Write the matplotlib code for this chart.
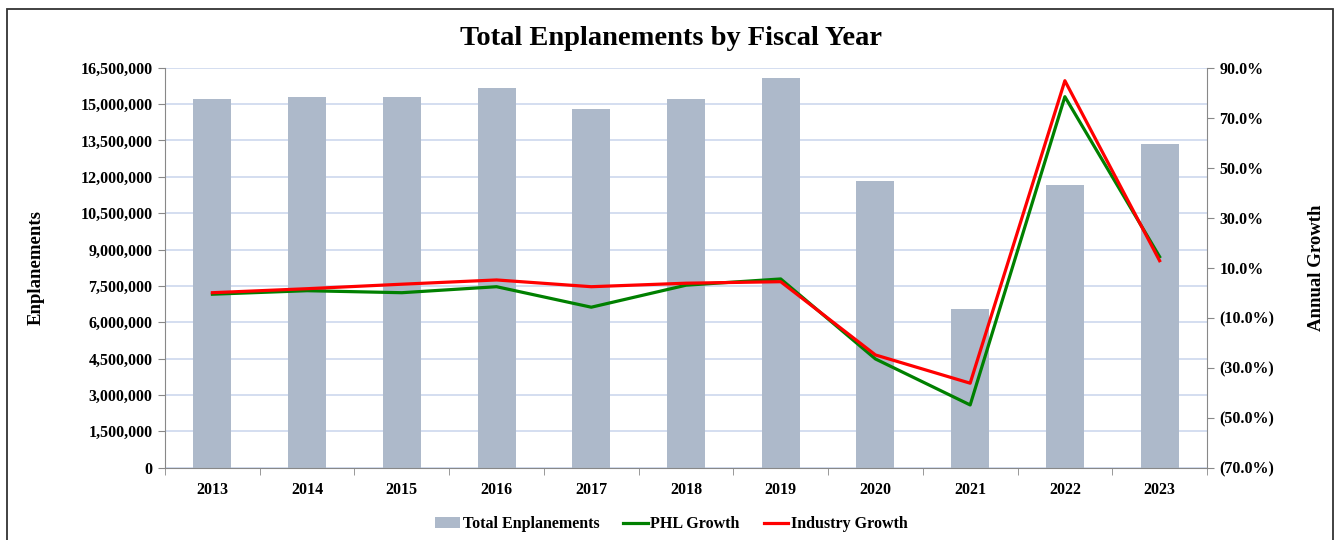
import matplotlib
matplotlib.use("Agg")
import matplotlib.pyplot as plt
from matplotlib.patches import Rectangle
from matplotlib.ticker import FuncFormatter, FixedLocator
import numpy as np

years = ['2013', '2014', '2015', '2016', '2017', '2018', '2019', '2020', '2021', '2022', '2023']
enplanements = [15200000, 15290000, 15290000, 15660000, 14780000, 15220000,
                16060000, 11830000, 6530000, 11660000, 13350000]
phl_growth = [-0.6, 0.8, 0.0, 2.4, -5.8, 3.0, 5.5, -26.5, -44.9, 78.4, 14.4]
industry_growth = [0.0, 1.6, 3.4, 5.1, 2.4, 3.8, 4.4, -24.9, -36.2, 84.8, 12.8]

plt.rcParams['font.family'] = 'Liberation Serif'
plt.rcParams['font.weight'] = 'bold'

fig = plt.figure(figsize=(13.43, 5.40), dpi=100)
ax = fig.add_axes([0.1229, 0.1339, 0.7758, 0.7407])
x = np.arange(len(years))

bars = ax.bar(x, enplanements, width=0.4, color='#adb9ca', zorder=2,
              label='Total Enplanements')
ax.set_xlim(-0.5, len(years) - 0.5)
ax.set_ylim(0, 16500000)
ax.set_yticks(np.arange(0, 16500001, 1500000))
ax.yaxis.set_major_formatter(FuncFormatter(lambda v, p: '{:,.0f}'.format(v)))
ax.grid(axis='y', color='#cdd8ee', linewidth=1.2, zorder=0)
ax.set_axisbelow(True)

ax.set_xticks(x)
ax.set_xticklabels(years)
ax.xaxis.set_minor_locator(FixedLocator(np.arange(-0.5, len(years), 1)))
ax.tick_params(axis='x', which='major', length=0, pad=10, labelsize=11.5)
ax.tick_params(axis='x', which='minor', length=5, color='#888888')
ax.tick_params(axis='y', length=5, color='#888888', labelsize=11.5, pad=4)

for s in ['left', 'bottom']:
    ax.spines[s].set_color('#888888')
ax.spines['top'].set_visible(False)
ax.spines['right'].set_visible(False)
ax.set_ylabel('Enplanements', fontsize=13.5, fontweight='bold', labelpad=26)

ax2 = ax.twinx()
l1, = ax2.plot(x, phl_growth, color='#008000', linewidth=2.3, label='PHL Growth', zorder=3)
l2, = ax2.plot(x, industry_growth, color='#ff0000', linewidth=2.3, label='Industry Growth', zorder=4)
ax2.set_ylim(-70, 90)
ax2.set_yticks(np.arange(-70, 91, 20))


def pct(v, p):
    if v < 0:
        return '({:.1f}%)'.format(-v)
    return '{:.1f}%'.format(v)


ax2.yaxis.set_major_formatter(FuncFormatter(pct))
ax2.tick_params(axis='y', length=5, color='#888888', labelsize=11.5, pad=4)
ax2.spines['right'].set_color('#888888')
ax2.spines['top'].set_visible(False)
ax2.spines['left'].set_visible(False)
ax2.spines['bottom'].set_visible(False)
ax2.set_ylabel('Annual Growth', fontsize=13.5, fontweight='bold', labelpad=24)

fig.text(0.5, 0.928, 'Total Enplanements by Fiscal Year', ha='center', va='center',
         fontsize=20.5, fontweight='bold')

fig.legend(handles=[bars, l1, l2], loc='center', bbox_to_anchor=(0.5, 0.029),
           ncol=3, frameon=False, fontsize=11.5, handlelength=1.55,
           handletextpad=0.15, columnspacing=1.5)

fig.patches.append(Rectangle((7 / 1343, -0.05), 1326 / 1343, 1.05 - 9 / 540,
                             transform=fig.transFigure, fill=False,
                             edgecolor='#333333', linewidth=1.3))

fig.savefig('out.png', dpi=100)
